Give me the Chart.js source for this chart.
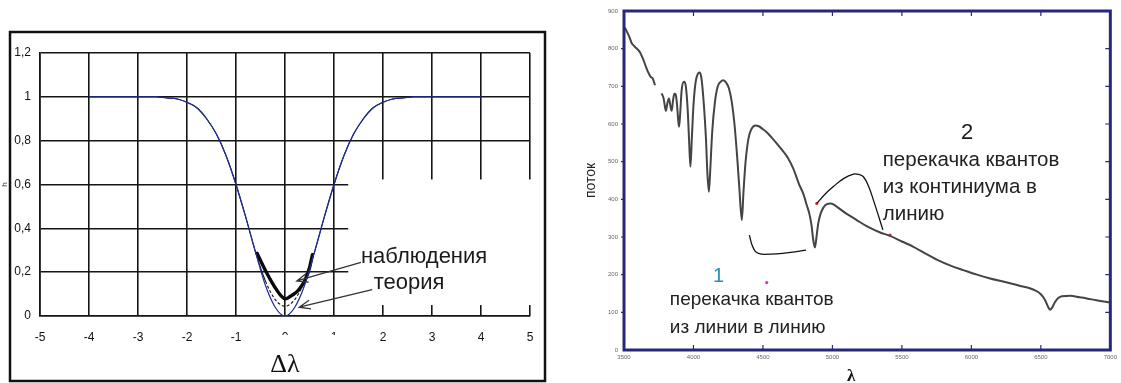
<!DOCTYPE html>
<html>
<head>
<meta charset="utf-8">
<script src="https://cdn.jsdelivr.net/npm/chart.js@4.4.1/dist/chart.umd.min.js"></script>
<style>
  html, body { margin: 0; padding: 0; background: #fff; width: 1121px; height: 383px; overflow: hidden; }
  #c1 { position: absolute; left: 0; top: 0; }
  #c2 { position: absolute; left: 560px; top: 0; }
</style>
</head>
<body>
<canvas id="c1" width="560" height="383"></canvas>
<canvas id="c2" width="561" height="383"></canvas>
<script>
// ---------- Left panel: line profile, residual intensity vs Δλ ----------
const xTickLabels = ['-5', '-4', '-3', '-2', '-1', '0', '1', '2', '3', '4', '5'];
const yTickLabels = ['0', '0,2', '0,4', '0,6', '0,8', '1', '1,2'];

// thin blue profile (reaches zero in the core)
const blueX = [-4, -3.5, -3, -2.6, -2.4, -2.2, -2, -1.8, -1.6, -1.4, -1.2, -1, -0.8, -0.6, -0.4, -0.2, 0,
               0.2, 0.4, 0.6, 0.8, 1, 1.2, 1.4, 1.6, 1.8, 2, 2.2, 2.4, 2.6, 3, 3.5, 4];
const blueY = [1, 1, 1, 1, 0.995, 0.99, 0.975, 0.95, 0.9, 0.83, 0.73, 0.6, 0.45, 0.29, 0.14, 0.04, 0,
               0.04, 0.14, 0.29, 0.45, 0.6, 0.73, 0.83, 0.9, 0.95, 0.975, 0.99, 0.995, 1, 1, 1, 1];

// "теория": thin black profile, dashed in the core
const theoryX = [-2.6, -2.4, -2.2, -2, -1.8, -1.6, -1.4, -1.2, -1, -0.8, -0.6, -0.4, -0.2, 0,
                 0.2, 0.4, 0.6, 0.8, 1, 1.2, 1.4, 1.6, 1.8, 2, 2.2, 2.4, 2.6];
const theoryY = [1, 0.995, 0.99, 0.975, 0.95, 0.9, 0.83, 0.73, 0.6, 0.45, 0.29, 0.16, 0.075, 0.045,
                 0.075, 0.16, 0.29, 0.45, 0.6, 0.73, 0.83, 0.9, 0.95, 0.975, 0.99, 0.995, 1];

// "наблюдения": observed core, bold
const obsX = [-0.57, -0.47, -0.37, -0.27, -0.17, -0.08, 0, 0.08, 0.16, 0.24, 0.33, 0.41, 0.5, 0.56];
const obsY = [0.286, 0.24, 0.195, 0.155, 0.119, 0.092, 0.078, 0.085, 0.097, 0.11, 0.135, 0.164, 0.22, 0.28];

// ---------- Right panel: stellar spectrum, flux vs λ ----------
const waveTicks = ['3500', '4000', '4500', '5000', '5500', '6000', '6500', '7000'];
const fluxTicks = ['0', '100', '200', '300', '400', '500', '600', '700', '800', '900'];

const specWave = [3507, 3525, 3540, 3555, 3570, 3590, 3612, 3625, 3640, 3662, 3680, 3695, 3705, 3712, 3723,
  3745,
  3771, 3785, 3795, 3802, 3812, 3824, 3833, 3843, 3852, 3862, 3872, 3882, 3890, 3896, 3903, 3915, 3932,
  3945, 3958, 3968, 3978, 3988, 4000, 4015, 4035, 4045, 4058, 4075, 4090, 4100, 4111, 4121, 4135, 4155,
  4175, 4195, 4215, 4235, 4255, 4275, 4295, 4315, 4330, 4348, 4360, 4375, 4395, 4415, 4445, 4470, 4500,
  4527, 4560, 4600, 4640, 4680, 4720, 4760, 4790, 4815, 4835, 4850, 4862, 4874, 4886, 4898, 4915, 4935,
  4960, 4985, 5010, 5040, 5100, 5175, 5250, 5343, 5415, 5500, 5583, 5670, 5751, 5850, 5943, 6040, 6135,
  6250, 6351, 6420, 6471, 6500, 6530, 6550, 6566, 6582, 6600, 6625, 6651, 6711, 6780, 6831, 6900, 6999];
const specFlux = [856, 842, 830, 815, 808, 801, 792, 783, 770, 748, 733, 724, 722, 716, 703,
  null,
  681, 668, 645, 635, 655, 668, 650, 635, 660, 680, 678, 650, 610, 593, 620, 690, 712,
  700, 640, 560, 487, 560, 650, 710, 735, 737, 720, 650, 560, 470, 420, 480, 580, 660,
  700, 712, 716, 710, 695, 660, 600, 510, 430, 345, 420, 500, 560, 585, 596, 594, 586,
  578, 565, 548, 530, 510, 480, 440, 415, 385, 360, 330, 292, 272, 302, 336, 362, 378,
  387, 389, 386, 378, 362, 345, 328, 312, 303, 288, 274, 256, 240, 224, 212, 200, 190,
  180, 170, 164, 156, 148, 133, 116, 107, 113, 126, 138, 143, 144, 140, 137, 132, 126];

// hand-drawn brackets
const bracket1Wave = [4402, 4420, 4445, 4475, 4510, 4599, 4700, 4810];
const bracket1Flux = [305, 280, 262, 256, 254, 255, 259, 265];
const bracket2Wave = [4887, 4950, 5007, 5080, 5151, 5190, 5223, 5260, 5295, 5330, 5363];
const bracket2Flux = [389, 415, 434, 455, 467, 466, 460, 435, 398, 358, 319];
const redDotWave = [4887, 5415];
const redDotFlux = [389, 305];
const pinkDotWave = [4527];
const pinkDotFlux = [179];

const pts = (xs, ys) => xs.map((x, i) => ({ x: x, y: ys[i] }));

Chart.defaults.font.family = '"Liberation Sans", Arial, sans-serif';
Chart.defaults.animation = false;

function arrow(ctx, x1, y1, x2, y2) {
  ctx.beginPath();
  ctx.moveTo(x1, y1);
  ctx.lineTo(x2, y2);
  const a = Math.atan2(y2 - y1, x2 - x1);
  const L = 12, w = 0.38;
  ctx.moveTo(x2 - L * Math.cos(a - w), y2 - L * Math.sin(a - w));
  ctx.lineTo(x2, y2);
  ctx.lineTo(x2 - L * Math.cos(a + w), y2 - L * Math.sin(a + w));
  ctx.stroke();
}

const leftDecor = {
  id: 'leftDecor',
  beforeDatasetsDraw(chart) {
    const { ctx, scales: { x, y } } = chart;
    // white label box hiding the lower-right part of the grid
    ctx.save();
    ctx.fillStyle = '#fff';
    const l = x.getPixelForValue(1.29), t = y.getPixelForValue(0.623), b = y.getPixelForValue(0.05);
    ctx.fillRect(l, t, 545 - l, b - t);
    ctx.restore();
  },
  afterDraw(chart) {
    const { ctx, scales: { x, y } } = chart;
    ctx.save();
    // outer frame
    ctx.strokeStyle = '#111';
    ctx.lineWidth = 2.5;
    ctx.strokeRect(10, 32, 535, 349);
    // box behind the axis title
    ctx.fillStyle = '#fff';
    ctx.fillRect(x.getPixelForValue(-0.38), 335, 86, 42);
    ctx.fillStyle = '#111';
    ctx.font = '26px "Liberation Serif", "Times New Roman", serif';
    ctx.textAlign = 'center';
    ctx.textBaseline = 'middle';
    ctx.fillText('Δλ', x.getPixelForValue(0), 365);
    // annotations
    ctx.font = '22px "Liberation Sans", Arial, sans-serif';
    ctx.textAlign = 'left';
    ctx.fillStyle = '#1a1a1a';
    ctx.fillText('наблюдения', x.getPixelForValue(1.55), y.getPixelForValue(0.27));
    ctx.fillText('теория', x.getPixelForValue(1.81), y.getPixelForValue(0.149));
    ctx.strokeStyle = '#333';
    ctx.lineWidth = 1.3;
    arrow(ctx, x.getPixelForValue(1.55), y.getPixelForValue(0.245), x.getPixelForValue(0.24), y.getPixelForValue(0.16));
    arrow(ctx, x.getPixelForValue(1.78), y.getPixelForValue(0.12), x.getPixelForValue(0.29), y.getPixelForValue(0.04));
    ctx.restore();
  }
};

new Chart(document.getElementById('c1'), {
  type: 'line',
  data: {
    datasets: [
      { data: pts(blueX, blueY), borderColor: '#1f2c9c', borderWidth: 1.2, pointRadius: 0,
        cubicInterpolationMode: 'monotone' },
      { data: pts(theoryX, theoryY), borderColor: '#111', borderWidth: 1.1, pointRadius: 0,
        cubicInterpolationMode: 'monotone',
        segment: { borderDash: c => (Math.abs(c.p0.parsed.x) < 0.55 && Math.abs(c.p1.parsed.x) < 0.55) ? [3, 2] : undefined } },
      { data: pts(obsX, obsY), borderColor: '#0a0a0a', borderWidth: 3.4, pointRadius: 0,
        cubicInterpolationMode: 'monotone', borderCapStyle: 'round' }
    ]
  },
  options: {
    responsive: false,
    layout: { padding: { left: 0, top: 53, right: 30, bottom: 2 } },
    plugins: { legend: { display: false }, tooltip: { enabled: false } },
    scales: {
      x: {
        type: 'linear', min: -5, max: 5,
        ticks: { stepSize: 1, autoSkip: false, maxRotation: 0, padding: 14, color: '#111',
                 font: { size: 12 }, callback: (v, i) => xTickLabels[i] },
        grid: { color: '#151515', lineWidth: 1.6, drawTicks: false },
        border: { color: '#151515', width: 1.6 },
        afterFit: s => { s.height = 65; }
      },
      y: {
        type: 'linear', min: 0, max: 1.2,
        ticks: { stepSize: 0.2, autoSkip: false, padding: 9, color: '#111',
                 font: { size: 12 }, callback: (v, i) => yTickLabels[i] },
        grid: { color: '#151515', lineWidth: 1.6, drawTicks: false },
        border: { color: '#151515', width: 1.6 },
        title: { display: true, text: 'h', color: '#333', font: { size: 8 }, padding: { top: 0, bottom: 0 } },
        afterFit: s => { s.width = 40; }
      }
    }
  },
  plugins: [leftDecor]
});

const rightDecor = {
  id: 'rightDecor',
  afterDraw(chart) {
    const { ctx, chartArea: a, scales: { x, y } } = chart;
    ctx.save();
    // frame
    ctx.strokeStyle = '#27287c';
    ctx.lineWidth = 3;
    ctx.strokeRect(a.left, a.top, a.right - a.left, a.bottom - a.top);
    // tick marks
    ctx.lineWidth = 1.2;
    for (let i = 1; i < waveTicks.length - 1; i++) {
      const px = x.getPixelForValue(Number(waveTicks[i]));
      ctx.beginPath();
      ctx.moveTo(px, a.top); ctx.lineTo(px, a.top + 5);
      ctx.moveTo(px, a.bottom); ctx.lineTo(px, a.bottom - 5);
      ctx.stroke();
    }
    for (let i = 1; i < fluxTicks.length - 1; i++) {
      const py = y.getPixelForValue(Number(fluxTicks[i]));
      ctx.beginPath();
      ctx.moveTo(a.right, py); ctx.lineTo(a.right - 5, py);
      ctx.moveTo(a.left, py); ctx.lineTo(a.left - 3, py);
      ctx.stroke();
    }
    // axis letter
    ctx.fillStyle = '#111';
    ctx.font = 'bold 17px "Liberation Serif", serif';
    ctx.textAlign = 'center';
    ctx.textBaseline = 'middle';
    ctx.fillText('λ', x.getPixelForValue(5135), 377);
    // annotations
    ctx.textAlign = 'left';
    ctx.fillStyle = '#2f8cb4';
    ctx.font = '20px "Liberation Sans", Arial, sans-serif';
    ctx.fillText('1', x.getPixelForValue(4140), y.getPixelForValue(194));
    ctx.fillStyle = '#1a1a1a';
    ctx.font = '22px "Liberation Sans", Arial, sans-serif';
    ctx.fillText('2', x.getPixelForValue(5925), y.getPixelForValue(576));
    ctx.fillStyle = '#222';
    ctx.font = '19px "Liberation Sans", Arial, sans-serif';
    ctx.fillText('перекачка квантов', x.getPixelForValue(3830), y.getPixelForValue(133));
    ctx.fillText('из линии в линию', x.getPixelForValue(3830), y.getPixelForValue(58));
    ctx.font = '20.5px "Liberation Sans", Arial, sans-serif';
    ctx.fillText('перекачка квантов', x.getPixelForValue(5362), y.getPixelForValue(504));
    ctx.fillText('из континиума в', x.getPixelForValue(5362), y.getPixelForValue(433));
    ctx.fillText('линию', x.getPixelForValue(5362), y.getPixelForValue(361));
    ctx.restore();
  }
};

new Chart(document.getElementById('c2'), {
  type: 'line',
  data: {
    datasets: [
      { data: pts(specWave, specFlux), borderColor: '#444', borderWidth: 2, pointRadius: 0,
        spanGaps: false, cubicInterpolationMode: 'monotone' },
      { data: pts(bracket1Wave, bracket1Flux), borderColor: '#111', borderWidth: 1.3, pointRadius: 0,
        cubicInterpolationMode: 'monotone' },
      { data: pts(bracket2Wave, bracket2Flux), borderColor: '#111', borderWidth: 1.3, pointRadius: 0,
        tension: 0.4 },
      { data: pts(redDotWave, redDotFlux), showLine: false, pointRadius: 1.6, pointBorderWidth: 0,
        pointBackgroundColor: '#ee3333' },
      { data: pts(pinkDotWave, pinkDotFlux), showLine: false, pointRadius: 1.6, pointBorderWidth: 0,
        pointBackgroundColor: '#dd22dd' }
    ]
  },
  options: {
    responsive: false,
    layout: { padding: { left: 20, top: 11, right: 10, bottom: 0 } },
    plugins: { legend: { display: false }, tooltip: { enabled: false } },
    scales: {
      x: {
        type: 'linear', min: 3500, max: 7000,
        ticks: { stepSize: 500, autoSkip: false, maxRotation: 0, padding: 4, color: '#666',
                 font: { size: 6 }, callback: (v, i) => waveTicks[i] },
        grid: { display: false, drawTicks: false },
        border: { display: false },
        afterFit: s => { s.height = 33; }
      },
      y: {
        type: 'linear', min: 0, max: 900,
        ticks: { stepSize: 100, autoSkip: false, padding: 6, color: '#666',
                 font: { size: 6 }, callback: (v, i) => fluxTicks[i] },
        grid: { display: false, drawTicks: false },
        border: { display: false },
        title: { display: true, text: 'поток', color: '#222', font: { size: 14 }, padding: { top: 3, bottom: 0 } },
        afterFit: s => { s.width = 44; }
      }
    }
  },
  plugins: [rightDecor]
});
</script>
</body>
</html>
